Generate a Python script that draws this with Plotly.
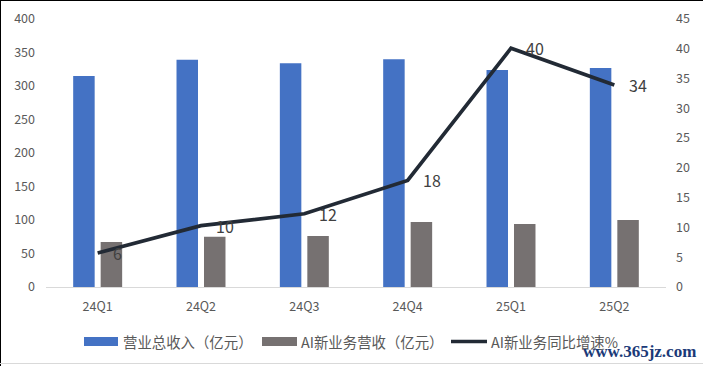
import plotly.graph_objects as go

quarters = ["24Q1", "24Q2", "24Q3", "24Q4", "25Q1", "25Q2"]
total_revenue = [315, 339, 334, 340, 324, 327]
ai_revenue = [67, 75, 76, 97, 94, 100]
ai_growth = [5.7, 10.3, 12.3, 17.9, 40.1, 33.9]

left_ticks = list(range(0, 401, 50))
right_ticks = list(range(0, 46, 5))

legend_names = ["营业总收入（亿元）", "AI新业务营收（亿元）", "AI新业务同比增速%"]

BLUE = "#4472C4"
GRAY = "#767171"
LINE = "#222A35"
TXT = "#595959"
FONT = "Noto Sans CJK SC"

W, H = 703, 366
L, R, T, B = 46, 37, 19, 79
PW, PH = W - L - R, H - T - B


def px(x):
    return (x - L) / PW


def py(y):
    return (H - B - y) / PH


fig = go.Figure()
fig.add_trace(go.Bar(x=quarters, y=total_revenue, name=legend_names[0],
                     marker=dict(color=BLUE, line=dict(width=0)), showlegend=False))
fig.add_trace(go.Bar(x=quarters, y=ai_revenue, name=legend_names[1],
                     marker=dict(color=GRAY, line=dict(width=0)), showlegend=False))
fig.add_trace(go.Scatter(x=quarters, y=ai_growth, name=legend_names[2], yaxis="y2",
                         mode="lines", line=dict(color=LINE, width=3.7),
                         showlegend=False))

annotations = []
for q, v in zip(quarters, ai_growth):
    annotations.append(dict(x=q, y=v, xref="x", yref="y2", text=f"{round(v)}",
                            showarrow=False, xanchor="left", yanchor="middle",
                            xshift=13, font=dict(family=FONT, size=16, color="#404040")))

# manual legend
shapes = [
    dict(type="rect", xref="paper", yref="paper", x0=px(84), x1=px(118), y0=py(346), y1=py(337),
         fillcolor=BLUE, line=dict(width=0)),
    dict(type="rect", xref="paper", yref="paper", x0=px(262), x1=px(297), y0=py(346), y1=py(337),
         fillcolor=GRAY, line=dict(width=0)),
    dict(type="line", xref="paper", yref="paper", x0=px(451), x1=px(487), y0=py(341.5), y1=py(341.5),
         line=dict(color=LINE, width=3.5)),
    # frame lines
    dict(type="line", xref="paper", yref="paper", x0=px(0.5), x1=px(0.5), y0=py(0), y1=py(366),
         line=dict(color="#000000", width=1)),
    dict(type="line", xref="paper", yref="paper", x0=px(0), x1=px(703), y0=py(0.5), y1=py(0.5),
         line=dict(color="#000000", width=1)),
    dict(type="line", xref="paper", yref="paper", x0=px(0), x1=px(703), y0=py(363.5), y1=py(363.5),
         line=dict(color="#D9D9D9", width=1)),
]
for x0, name in zip([121, 299, 489], legend_names):
    annotations.append(dict(x=px(x0), y=py(341.5), xref="paper", yref="paper", text=name,
                            showarrow=False, xanchor="left", yanchor="middle",
                            font=dict(family=FONT, size=14.4, color=TXT)))

annotations.append(dict(x=px(581), y=py(351), xref="paper", yref="paper", text="<b>www.365jz.com</b>",
                        showarrow=False, xanchor="left", yanchor="middle",
                        font=dict(family="Liberation Serif", size=17, color="#1B3A78")))

fig.update_layout(
    width=W, height=H, autosize=False,
    margin=dict(l=L, r=R, t=T, b=B, pad=0, autoexpand=False),
    paper_bgcolor="white", plot_bgcolor="white",
    barmode="group", bargap=0.468, bargroupgap=0.218,
    font=dict(family=FONT, size=12.5, color=TXT),
    xaxis=dict(type="category", showgrid=False, zeroline=False, showline=True,
               linecolor="#D9D9D9", linewidth=1, ticks="", ticklabelstandoff=8,
               tickfont=dict(family=FONT, size=12.5, color=TXT)),
    yaxis=dict(range=[0, 400], tickvals=left_ticks, showgrid=False, zeroline=False,
               showline=False, ticks="", ticklabelstandoff=10,
               tickfont=dict(family=FONT, size=12.5, color=TXT)),
    yaxis2=dict(range=[0, 45], tickvals=right_ticks, overlaying="y", side="right",
                showgrid=False, zeroline=False, showline=False, ticks="", ticklabelstandoff=9,
                tickfont=dict(family=FONT, size=12.5, color=TXT)),
    shapes=shapes,
    annotations=annotations,
    showlegend=False,
)

fig.write_html("out.html",
               config={"displayModeBar": False},
               post_script="document.body.style.margin='0';document.body.style.padding='0';")
